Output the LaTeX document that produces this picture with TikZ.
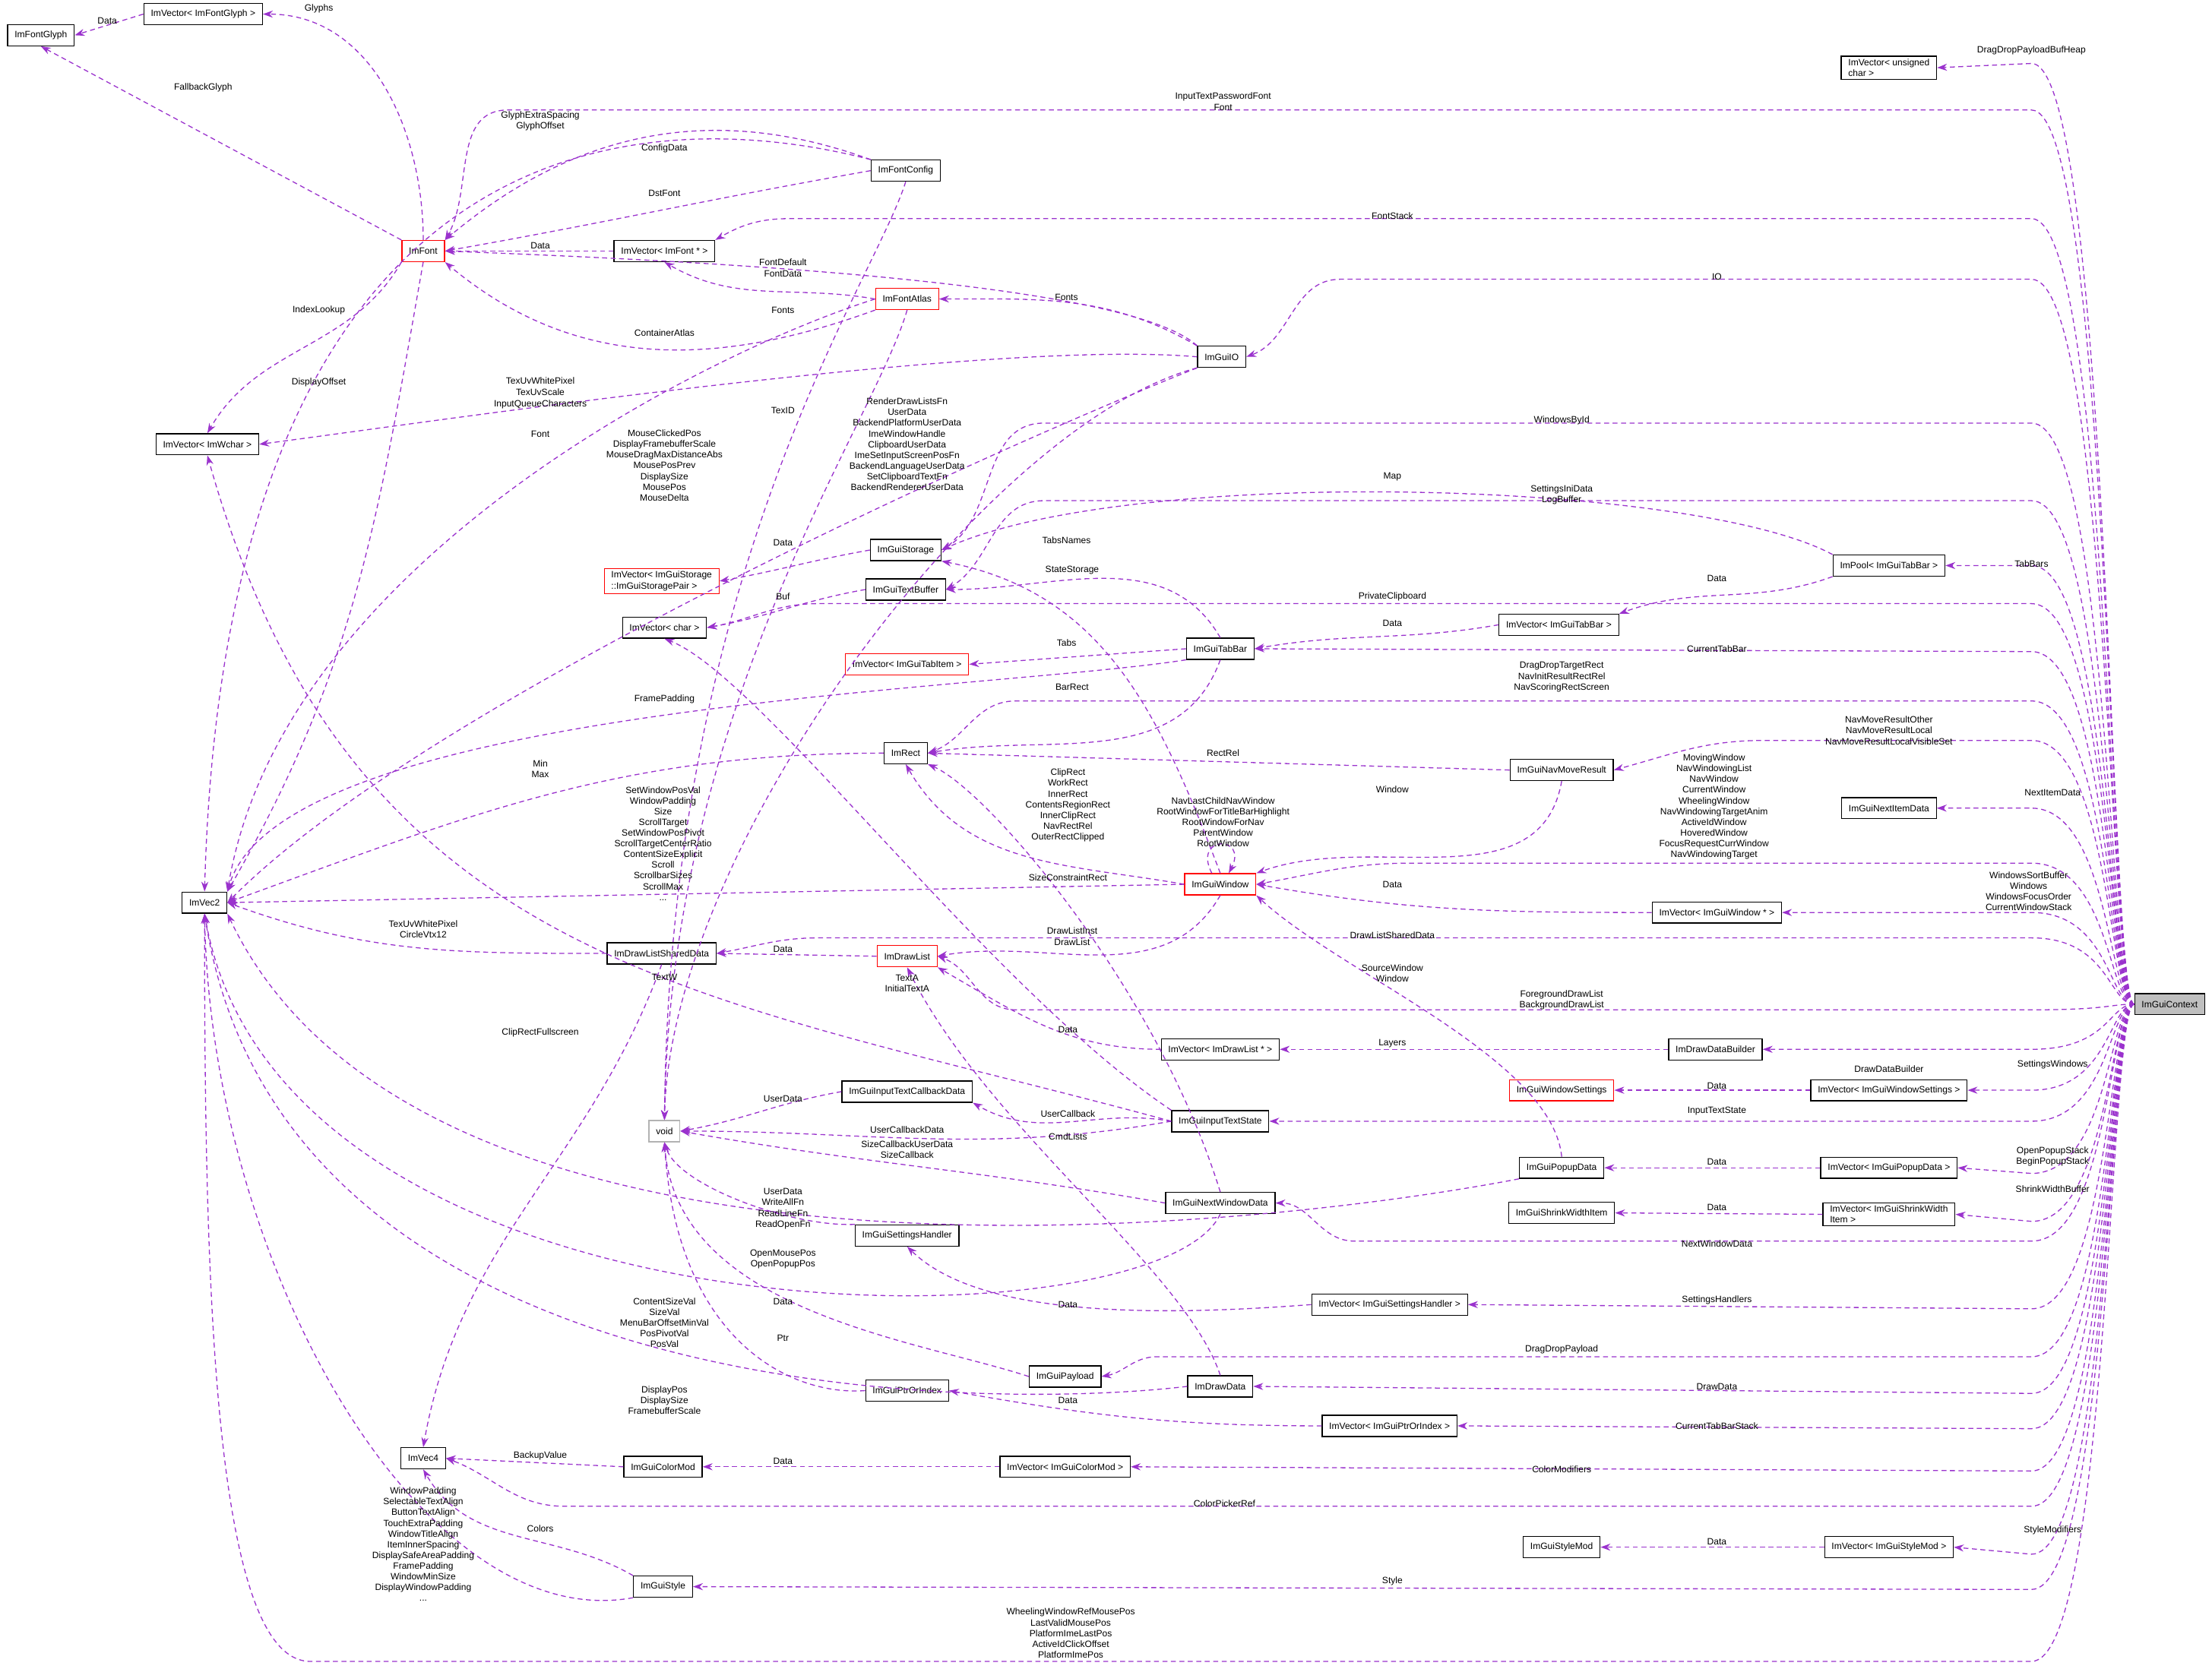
\documentclass[tikz,border=0pt]{standalone}
\usepackage{fontspec}
\setmainfont{Liberation Sans}
\usetikzlibrary{arrows.meta}
\definecolor{ec}{HTML}{9A32CD}
\newcommand\fs{\fontsize{6.5}{7.6}\selectfont}
\tikzset{
 cls/.style={draw=black, line width=0.7pt, fill=white, font=\fs, inner xsep=5pt, inner ysep=2pt, minimum height=15pt, align=left},
 rcls/.style={cls, draw=red},
 e/.style={draw=ec, dashed, dash pattern=on 3.5pt off 2.5pt, line width=0.7pt, -{Stealth[length=7pt,width=5pt,fill=ec]}},
 lbl/.style={font=\fs, align=center, inner sep=0pt}
}
\newcommand\ce[2]{\draw[e] (ctx.west) .. controls (1495,712) and (1495,#1) .. (1440,#1) #2;}
\begin{document}
\begin{tikzpicture}[x=1pt,y=-1pt]
\useasboundingbox (0,0) rectangle (1568,1183);
% nodes
\node[cls] (glyph) at (29,25) {ImFontGlyph};
\node[cls] (vglyph) at (144,10) {ImVector< ImFontGlyph >};
\node[rcls] (font) at (300,178) {ImFont};
\node[cls] (fconf) at (642,121) {ImFontConfig};
\node[cls] (vfont) at (471,178) {ImVector< ImFont * >};
\node[rcls] (atlas) at (643,212) {ImFontAtlas};
\node[cls] (io) at (866,253) {ImGuiIO};
\node[cls] (vwchar) at (147,315) {ImVector< ImWchar >};
\node[cls] (storage) at (642,390) {ImGuiStorage};
\node[rcls] (vpair) at (469,412) {ImVector< ImGuiStorage\\::ImGuiStoragePair >};
\node[cls] (tbuf) at (642,418) {ImGuiTextBuffer};
\node[cls] (vchar) at (471,445) {ImVector< char >};
\node[rcls] (vtabitem) at (643,471) {ImVector< ImGuiTabItem >};
\node[cls] (tabbar) at (865,460) {ImGuiTabBar};
\node[cls] (rect) at (642,534) {ImRect};
\node[cls] (navmove) at (1107,546) {ImGuiNavMoveResult};
\node[cls] (nextitem) at (1339,573) {ImGuiNextItemData};
\node[rcls] (win) at (865,627) {ImGuiWindow};
\node[cls] (vwin) at (1217,647) {ImVector< ImGuiWindow * >};
\node[cls] (vec2) at (145,640) {ImVec2};
\node[cls] (dlsd) at (469,676) {ImDrawListSharedData};
\node[rcls] (dl) at (643,678) {ImDrawList};
\node[cls, fill=black!25] (ctx) at (1538,712) {ImGuiContext};
\node[cls] (vdl) at (865,744) {ImVector< ImDrawList * >};
\node[cls] (ddb) at (1216,744) {ImDrawDataBuilder};
\node[rcls] (ws) at (1107,773) {ImGuiWindowSettings};
\node[cls] (vws) at (1339,773) {ImVector< ImGuiWindowSettings >};
\node[cls] (itcb) at (643,774) {ImGuiInputTextCallbackData};
\node[cls, draw=black!30] (void) at (471,802) {void};
\node[cls] (its) at (865,795) {ImGuiInputTextState};
\node[cls] (popup) at (1107,828) {ImGuiPopupData};
\node[cls] (vpop) at (1339,828) {ImVector< ImGuiPopupData >};
\node[cls] (nwd) at (865,853) {ImGuiNextWindowData};
\node[cls] (shrink) at (1107,860) {ImGuiShrinkWidthItem};
\node[cls] (vshrink) at (1339,861) {ImVector< ImGuiShrinkWidth\\ Item >};
\node[cls] (sh) at (643,876) {ImGuiSettingsHandler};
\node[cls] (vsh) at (985,925) {ImVector< ImGuiSettingsHandler >};
\node[cls] (payload) at (755,976) {ImGuiPayload};
\node[cls] (drawdata) at (865,983) {ImDrawData};
\node[cls] (ptr) at (643,986) {ImGuiPtrOrIndex};
\node[cls] (vptr) at (985,1011) {ImVector< ImGuiPtrOrIndex >};
\node[cls] (vec4) at (300,1034) {ImVec4};
\node[cls] (colormod) at (470,1040) {ImGuiColorMod};
\node[cls] (vcm) at (755,1040) {ImVector< ImGuiColorMod >};
\node[cls] (stylemod) at (1107,1097) {ImGuiStyleMod};
\node[cls] (vsm) at (1339,1097) {ImVector< ImGuiStyleMod >};
\node[cls] (style) at (470,1125) {ImGuiStyle};
\node[cls] (pool) at (1339,401) {ImPool< ImGuiTabBar >};
\node[cls] (vtabbar) at (1105,443) {ImVector< ImGuiTabBar >};
\node[cls] (uchar) at (1339,48) {ImVector< unsigned\\ char >};

% ImGuiContext edges
\ce{45}{-- (uchar.east)}
\ce{78}{-- (360,78) to[out=180,in=60] (font.north east)}
\ce{155}{-- (560,155) to[out=180,in=30] (vfont.north east)}
\ce{198}{-- (950,198) to[out=180,in=20] (io.east)}
\ce{300}{-- (740,300) to[out=180,in=30] (storage.east)}
\ce{355}{-- (740,355) to[out=180,in=30] (tbuf.east)}
\ce{401}{-- (pool.east)}
\ce{428}{-- (580,428) to[out=180,in=10] (vchar.east)}
\ce{462}{-- (tabbar.east)}
\ce{497}{-- (720,497) to[out=180,in=20] (rect.east)}
\ce{525}{-- (1250,525) to[out=180,in=15] (navmove.east)}
\ce{573}{-- (nextitem.east)}
\ce{612}{-- (1000,612) to[out=180,in=10] (win.east)}
\ce{647}{-- (vwin.east)}
\ce{665}{-- (580,665) to[out=180,in=10] (dlsd.east)}
\ce{716}{-- (720,716) to[out=180,in=-20] (dl.east)}
\ce{744}{-- (ddb.east)}
\ce{773}{-- (vws.east)}
\ce{795}{-- (its.east)}
\ce{832}{-- (vpop.east)}
\ce{866}{-- (vshrink.east)}
\ce{880}{-- (960,880) to[out=180,in=0] (nwd.east)}
\ce{928}{-- (vsh.east)}
\ce{962}{-- (820,962) to[out=180,in=10] (payload.east)}
\ce{988}{-- (drawdata.east)}
\ce{1013}{-- (vptr.east)}
\ce{1043}{-- (vcm.east)}
\ce{1068}{-- (400,1068) to[out=180,in=-20] (vec4.east)}
\ce{1102}{-- (vsm.east)}
\ce{1127}{-- (style.east)}
\ce{1178}{-- (220,1178) .. controls (150,1178) and (145,900) .. (vec2.south)}

% other edges
\draw[e] (vglyph.west) -- (glyph.east);
\draw[e] (font.north) to[out=90,in=0] (vglyph.east);
\draw[e] (font.north west) -- (glyph.south);
\draw[e] (fconf.north west) .. controls (450,70) and (160,90) .. (vec2.north);
\draw[e] (fconf.north west) to[out=160,in=40] (font.north east);
\draw[e] (fconf.west) to[out=190,in=10] (font.east);
\draw[e] (vfont.west) -- (font.east);
\draw[e] (atlas.west) to[out=170,in=-30] (vfont.south);
\draw[e] (atlas.south west) to[out=200,in=-40] (font.south east);
\draw[e] (io.north west) .. controls (800,200) and (500,185) .. (font.east);
\draw[e] (io.north west) to[out=150,in=0] (atlas.east);
\draw[e] (font.south west) to[out=240,in=60] (vwchar.north);
\draw[e] (font.south) to[out=-100,in=60] (vec2.north east);
\draw[e] (io.west) .. controls (700,240) and (300,300) .. (vwchar.east);
\draw[e] (atlas.west) .. controls (500,250) and (200,400) .. (vec2.north east);
\draw[e] (io.south west) .. controls (700,320) and (300,500) .. (vec2.east);
\draw[e] (fconf.south) .. controls (620,200) and (475,400) .. (void.north);
\draw[e] (atlas.south) .. controls (620,300) and (475,500) .. (void.north);
\draw[e] (io.south west) .. controls (700,300) and (475,600) .. (void.north);
\draw[e] (storage.west) to[out=190,in=10] (vpair.east);
\draw[e] (tbuf.west) to[out=190,in=10] (vchar.east);
\draw[e] (pool.north west) .. controls (1200,340) and (800,330) .. (storage.east);
\draw[e] (pool.south west) to[out=200,in=20] (vtabbar.north east);
\draw[e] (vtabbar.west) to[out=190,in=10] (tabbar.east);
\draw[e] (tabbar.north) to[out=120,in=0] (tbuf.east);
\draw[e] (tabbar.west) -- (vtabitem.east);
\draw[e] (tabbar.south) to[out=-110,in=10] (rect.east);
\draw[e] (tabbar.south west) .. controls (700,490) and (200,500) .. (vec2.north east);
\draw[e] (rect.west) to[out=180,in=20] (vec2.east);
\draw[e] (navmove.west) -- (rect.east);
\draw[e] (navmove.south) to[out=-100,in=20] (win.north east);
\draw[e] (win.north) .. controls (820,500) and (780,420) .. (storage.south east);
\draw[e] (win.west) to[out=170,in=-60] (rect.south);
\draw[e] ([xshift=-6pt]win.north) .. controls (845,592) and (885,592) .. ([xshift=6pt]win.north);
\draw[e] (win.west) -- (vec2.east);
\draw[e] (vwin.west) to[out=180,in=-10] (win.east);
\draw[e] (win.south) to[out=-120,in=10] (dl.east);
\draw[e] (nwd.north) .. controls (820,700) and (700,560) .. (rect.south east);
\draw[e] (dlsd.west) to[out=180,in=-20] (vec2.east);
\draw[e] (dl.west) -- (dlsd.east);
\draw[e] (its.west) .. controls (500,705) and (250,690) .. (vwchar.south);
\draw[e] (its.north west) .. controls (700,700) and (540,480) .. (vchar.south);
\draw[e] (vdl.west) to[out=180,in=-30] (dl.south east);
\draw[e] (ddb.west) -- (vdl.east);
\draw[e] (dlsd.south) to[out=-110,in=80] (vec4.north);
\draw[e] (vws.west) -- (ws.east);
\draw[e] (its.west) to[out=170,in=-30] (itcb.south east);
\draw[e] (itcb.west) to[out=190,in=10] (void.east);
\draw[e] (its.west) to[out=190,in=0] (void.east);
\draw[e] (nwd.west) to[out=170,in=-10] (void.east);
\draw[e] (drawdata.north) .. controls (840,900) and (700,800) .. (dl.south);
\draw[e] (popup.north) .. controls (1100,750) and (950,690) .. (win.south east);
\draw[e] (vpop.west) -- (popup.east);
\draw[e] (vshrink.west) -- (shrink.east);
\draw[e] (sh.north west) .. controls (560,870) and (480,840) .. (void.south);
\draw[e] (popup.south west) .. controls (900,870) and (300,940) .. (vec2.south east);
\draw[e] (vsh.west) .. controls (800,935) and (690,930) .. (sh.south);
\draw[e] (nwd.south) .. controls (820,958) and (200,960) .. (vec2.south);
\draw[e] (payload.west) .. controls (650,950) and (480,930) .. (void.south);
\draw[e] (ptr.west) .. controls (560,990) and (480,950) .. (void.south);
\draw[e] (drawdata.west) .. controls (700,1000) and (200,1000) .. (vec2.south);
\draw[e] (vptr.west) to[out=180,in=-10] (ptr.east);
\draw[e] (colormod.west) -- (vec4.east);
\draw[e] (vcm.west) -- (colormod.east);
\draw[e] (vsm.west) -- (stylemod.east);
\draw[e] (style.north west) to[out=150,in=-60] (vec4.south);
\draw[e] (style.south west) .. controls (300,1160) and (150,900) .. (vec2.south);

% labels
\node[lbl] (l1) at (1440,36) {DragDropPayloadBufHeap};
\node[lbl] (l2) at (867,72) {InputTextPasswordFont\\Font};
\node[lbl] (l3) at (987,153) {FontStack};
\node[lbl] (l4) at (1217,196) {IO};
\node[lbl] (l5) at (1107,298) {WindowsById};
\node[lbl] (l6) at (1107,351) {SettingsIniData\\LogBuffer};
\node[lbl] (l7) at (1440,400) {TabBars};
\node[lbl] (l8) at (987,423) {PrivateClipboard};
\node[lbl] (l9) at (1217,460) {CurrentTabBar};
\node[lbl] (l10) at (1107,480) {DragDropTargetRect\\NavInitResultRectRel\\NavScoringRectScreen};
\node[lbl] (l11) at (1339,518) {NavMoveResultOther\\NavMoveResultLocal\\NavMoveResultLocalVisibleSet};
\node[lbl] (l12) at (1455,562) {NextItemData};
\node[lbl] (l13) at (1215,572) {MovingWindow\\NavWindowingList\\NavWindow\\CurrentWindow\\WheelingWindow\\NavWindowingTargetAnim\\ActiveIdWindow\\HoveredWindow\\FocusRequestCurrWindow\\NavWindowingTarget};
\node[lbl] (l14) at (1438,632) {WindowsSortBuffer\\Windows\\WindowsFocusOrder\\CurrentWindowStack};
\node[lbl] (l15) at (987,663) {DrawListSharedData};
\node[lbl] (l16) at (1107,709) {ForegroundDrawList\\BackgroundDrawList};
\node[lbl] (l17) at (987,690) {SourceWindow\\Window};
\node[lbl] (l18) at (1339,758) {DrawDataBuilder};
\node[lbl] (l19) at (1455,755) {SettingsWindows};
\node[lbl] (l20) at (1217,788) {InputTextState};
\node[lbl] (l21) at (1455,820) {OpenPopupStack\\BeginPopupStack};
\node[lbl] (l22) at (1455,843) {ShrinkWidthBuffer};
\node[lbl] (l23) at (1217,882) {NextWindowData};
\node[lbl] (l24) at (1217,922) {SettingsHandlers};
\node[lbl] (l25) at (1107,957) {DragDropPayload};
\node[lbl] (l26) at (1217,983) {DrawData};
\node[lbl] (l27) at (1217,1011) {CurrentTabBarStack};
\node[lbl] (l28) at (1107,1042) {ColorModifiers};
\node[lbl] (l29) at (868,1066) {ColorPickerRef};
\node[lbl] (l30) at (1455,1085) {StyleModifiers};
\node[lbl] (l31) at (987,1121) {Style};
\node[lbl] (l32) at (759,1158) {WheelingWindowRefMousePos\\LastValidMousePos\\PlatformImeLastPos\\ActiveIdClickOffset\\PlatformImePos};
\node[lbl] (m1) at (76,15) {Data};
\node[lbl] (m2) at (226,6) {Glyphs};
\node[lbl] (m3) at (144,62) {FallbackGlyph};
\node[lbl] (m4) at (383,86) {GlyphExtraSpacing\\GlyphOffset};
\node[lbl] (m5) at (471,105) {ConfigData};
\node[lbl] (m6) at (471,137) {DstFont};
\node[lbl] (m7) at (383,174) {Data};
\node[lbl] (m8) at (555,220) {Fonts};
\node[lbl] (m9) at (471,236) {ContainerAtlas};
\node[lbl] (m10) at (555,190) {FontDefault\\FontData};
\node[lbl] (m11) at (756,211) {Fonts};
\node[lbl] (m12) at (226,220) {IndexLookup};
\node[lbl] (m13) at (226,271) {DisplayOffset};
\node[lbl] (m14) at (383,287) {InputQueueCharacters};
\node[lbl] (m15) at (383,274) {TexUvWhitePixel\\TexUvScale};
\node[lbl] (m15b) at (383,308) {Font};
\node[lbl] (m16) at (471,330) {MouseClickedPos\\DisplayFramebufferScale\\MouseDragMaxDistanceAbs\\MousePosPrev\\DisplaySize\\MousePos\\MouseDelta};
\node[lbl] (m17) at (555,291) {TexID};
\node[lbl] (m18) at (643,315) {RenderDrawListsFn\\UserData\\BackendPlatformUserData\\ImeWindowHandle\\ClipboardUserData\\ImeSetInputScreenPosFn\\BackendLanguageUserData\\SetClipboardTextFn\\BackendRendererUserData};
\node[lbl] (m19) at (555,385) {Data};
\node[lbl] (m20) at (555,423) {Buf};
\node[lbl] (m21) at (987,338) {Map};
\node[lbl] (m22) at (1217,410) {Data};
\node[lbl] (m23) at (987,442) {Data};
\node[lbl] (m24) at (756,383) {TabsNames};
\node[lbl] (m25) at (756,456) {Tabs};
\node[lbl] (m26) at (760,487) {BarRect};
\node[lbl] (m27) at (471,496) {FramePadding};
\node[lbl] (m28) at (383,545) {Min\\Max};
\node[lbl] (m29) at (867,534) {RectRel};
\node[lbl] (m30) at (987,560) {Window};
\node[lbl] (m31) at (760,404) {StateStorage};
\node[lbl] (m32) at (757,571) {ClipRect\\WorkRect\\InnerRect\\ContentsRegionRect\\InnerClipRect\\NavRectRel\\OuterRectClipped};
\node[lbl] (m33) at (867,583) {NavLastChildNavWindow\\RootWindowForTitleBarHighlight\\RootWindowForNav\\ParentWindow\\RootWindow};
\node[lbl] (m34) at (470,598) {SetWindowPosVal\\WindowPadding\\Size\\ScrollTarget\\SetWindowPosPivot\\ScrollTargetCenterRatio\\ContentSizeExplicit\\Scroll\\ScrollbarSizes\\ScrollMax\\...};
\node[lbl] (m35) at (987,627) {Data};
\node[lbl] (m36) at (760,664) {DrawListInst\\DrawList};
\node[lbl] (m37) at (757,622) {SizeConstraintRect};
\node[lbl] (m38) at (300,659) {TexUvWhitePixel\\CircleVtx12};
\node[lbl] (m39) at (555,673) {Data};
\node[lbl] (m40) at (471,693) {TextW};
\node[lbl] (m41) at (643,697) {TextA\\InitialTextA};
\node[lbl] (m42) at (757,730) {Data};
\node[lbl] (m43) at (987,740) {Layers};
\node[lbl] (m44) at (383,732) {ClipRectFullscreen};
\node[lbl] (m45) at (1217,770) {Data};
\node[lbl] (m46) at (757,790) {UserCallback};
\node[lbl] (m47) at (555,779) {UserData};
\node[lbl] (m48) at (643,801) {UserCallbackData};
\node[lbl] (m49) at (643,815) {SizeCallbackUserData\\SizeCallback};
\node[lbl] (m50) at (757,806) {CmdLists};
\node[lbl] (m51) at (1217,824) {Data};
\node[lbl] (m52) at (1217,856) {Data};
\node[lbl] (m53) at (555,857) {UserData\\WriteAllFn\\ReadLineFn\\ReadOpenFn};
\node[lbl] (m54) at (555,893) {OpenMousePos\\OpenPopupPos};
\node[lbl] (m55) at (757,925) {Data};
\node[lbl] (m56) at (471,938) {ContentSizeVal\\SizeVal\\MenuBarOffsetMinVal\\PosPivotVal\\PosVal};
\node[lbl] (m57) at (555,923) {Data};
\node[lbl] (m58) at (555,949) {Ptr};
\node[lbl] (m59) at (471,993) {DisplayPos\\DisplaySize\\FramebufferScale};
\node[lbl] (m60) at (757,993) {Data};
\node[lbl] (m61) at (383,1032) {BackupValue};
\node[lbl] (m62) at (555,1036) {Data};
\node[lbl] (m63) at (1217,1093) {Data};
\node[lbl] (m64) at (383,1084) {Colors};
\node[lbl] (m65) at (300,1095) {WindowPadding\\SelectableTextAlign\\ButtonTextAlign\\TouchExtraPadding\\WindowTitleAlign\\ItemInnerSpacing\\DisplaySafeAreaPadding\\FramePadding\\WindowMinSize\\DisplayWindowPadding\\...};
\end{tikzpicture}
\end{document}
